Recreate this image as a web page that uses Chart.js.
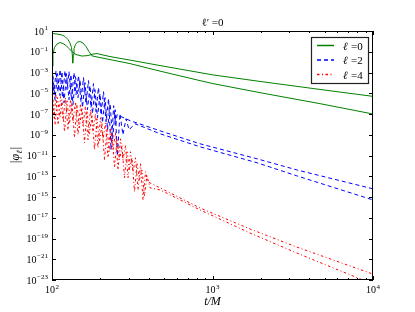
<!doctype html>
<html lang="en">
<head>
<meta charset="utf-8" />
<title>l' = 0 tails</title>
<script src="https://cdn.jsdelivr.net/npm/chart.js@4"></script>
<style>
  html, body { margin: 0; padding: 0; background: #fff; }
  #wrap { width: 415px; height: 312px; }
</style>
</head>
<body>
<div id="wrap"><canvas id="c" width="415" height="312"></canvas></div>
<script>
// l = 0, two runs (green)
const ell0aT = [100, 107.4, 115.4, 120.5, 125.8, 129.4, 132.3, 133.8, 134.6, 135.6, 137.1, 140.1, 144.1, 149.4, 156.0, 162.8, 170.0, 177.5, 199.1, 306, 471, 836, 1007, 1977, 4677, 10000];
const ell0aV = [5.73, 5.13, 4.11, 2.94, 1.51, 0.693, 0.255, 0.0536, 0.008, 0.0536, 0.204, 0.497, 0.865, 0.968, 0.693, 0.318, 0.104, 0.040, 0.0275, 0.0072, 0.00136, 1.65e-4, 8.5e-5, 1.14e-5, 9.9e-7, 1.0e-7];
const ell0bT = [100, 101.4, 103.6, 107.4, 112.2, 117.1, 122.3, 127.6, 133.2, 141.1, 153.8, 167.6, 180.1, 190.8, 199.1, 229.8, 306, 471, 1007, 1977, 4677, 10000];
const ell0bV = [0.004, 0.0536, 0.255, 0.555, 0.774, 0.619, 0.397, 0.204, 0.104, 0.0536, 0.0385, 0.043, 0.060, 0.067, 0.057, 0.0344, 0.0158, 0.00465, 5.86e-4, 1.38e-4, 2.33e-5, 5.0e-6];

// l = 2 (blue dashed)
const ell2aT = [100, 102.9, 105.9, 109.0, 112.2, 116.3, 120.5, 124.0, 127.6, 132.3, 137.1, 141.1, 146.3, 151.6, 157.1, 162.8, 168.8, 175.0, 181.3, 188.0, 194.8, 202.0, 209.4, 217.2, 225.1, 233.5, 242.2, 249.4, 254.0, 306.2, 471, 836, 1894, 3350, 10000];
const ell2aV = [9.8e-4, 7.3e-6, 1.5e-3, 1.4e-5, 1.9e-3, 3.8e-6, 1.5e-3, 2.2e-5, 1.2e-3, 2.4e-6, 9.8e-4, 7.3e-6, 5.0e-4, 1.5e-6, 3.2e-4, 9.9e-7, 1.65e-4, 4.1e-7, 8.5e-5, 1.7e-7, 3.5e-5, 8.6e-8, 1.4e-5, 1.8e-8, 3.0e-6, 3.6e-11, 6.3e-7, 9.2e-9, 8.6e-8, 2.3e-8, 2.4e-9, 1.35e-10, 4.8e-12, 4.1e-13, 6.1e-15];
const ell2bT = [101.4, 104.4, 108.2, 112.2, 115.4, 118.8, 123.1, 127.6, 131.3, 135.1, 140.1, 145.2, 149.4, 154.9, 160.4, 166.3, 172.5, 178.7, 185.2, 192.0, 199.1, 206.3, 214.0, 221.9, 230.2, 238.6, 247.6, 255.8, 265.0, 276.6, 289.4, 302.0, 328.8, 471, 836, 1894, 3350, 10000];
const ell2bV = [5.0e-4, 2.4e-6, 7.8e-4, 5.9e-6, 1.2e-3, 1.2e-6, 7.8e-4, 2.4e-6, 6.3e-4, 7.9e-7, 4.0e-4, 3.8e-6, 2.1e-4, 4.1e-7, 1.06e-4, 2.6e-7, 5.4e-5, 1.07e-7, 2.2e-5, 4.4e-8, 9.2e-6, 1.45e-8, 3.8e-6, 3.0e-9, 9.9e-7, 3.3e-10, 2.6e-7, 9.4e-12, 1.07e-7, 1.0e-9, 3.5e-8, 3.0e-9, 1.16e-8, 1.25e-9, 6.9e-11, 2.0e-12, 1.1e-13, 5.2e-16];

// l = 4 (red dash-dot)
const ell4aT = [100, 102.9, 105.9, 109.0, 113.0, 117.1, 121.4, 125.8, 130.4, 135.1, 140.1, 145.2, 150.5, 156.0, 161.6, 167.6, 173.7, 180.1, 186.6, 193.4, 200.5, 207.9, 215.4, 223.3, 231.5, 240.0, 248.7, 257.8, 267.2, 276.6, 287.1, 297.6, 308.4, 319.7, 331.4, 343.5, 356.0, 369.0, 382.5, 396.4, 836, 1712, 3350, 10000];
const ell4aV = [5.9e-6, 4.4e-8, 7.3e-6, 9.2e-9, 4.7e-6, 2.8e-8, 3.8e-6, 3.0e-9, 2.4e-6, 1.8e-8, 1.5e-6, 1.0e-9, 9.9e-7, 7.4e-9, 5.1e-7, 3.3e-10, 2.6e-7, 1.95e-9, 1.07e-7, 5.5e-11, 4.4e-8, 3.3e-10, 1.45e-8, 6.0e-12, 4.7e-9, 3.6e-11, 1.56e-9, 4.1e-13, 4.1e-10, 3.8e-12, 8.7e-11, 7.0e-14, 2.3e-11, 2.7e-13, 6.0e-12, 4.9e-15, 1.6e-12, 5.2e-16, 2.7e-13, 2.9e-14, 8.8e-17, 8.3e-19, 1.5e-20, 3.7e-23];
const ell4bT = [101.4, 104.4, 108.2, 112.2, 115.4, 119.6, 124.0, 128.5, 133.2, 138.1, 143.1, 148.3, 153.8, 159.4, 165.2, 171.2, 177.5, 184.0, 190.8, 197.7, 204.9, 212.4, 220.1, 228.2, 236.5, 245.2, 254.0, 263.4, 272.9, 283.0, 293.3, 304.0, 315.1, 326.6, 338.6, 350.9, 363.7, 377.0, 390.8, 407.9, 471, 836, 1712, 3350, 8666, 10000];
const ell4bV = [2.4e-6, 9.2e-9, 3.8e-6, 4.4e-8, 2.4e-6, 1.95e-9, 1.9e-6, 1.16e-8, 1.2e-6, 5.1e-10, 7.9e-7, 4.7e-9, 4.1e-7, 1.7e-10, 2.1e-7, 1.25e-9, 8.6e-8, 3.6e-11, 3.5e-8, 2.1e-10, 1.16e-8, 3.8e-12, 3.8e-9, 2.3e-11, 1.25e-9, 6.5e-13, 3.3e-10, 3.8e-12, 8.7e-11, 7.0e-14, 2.3e-11, 4.1e-13, 6.0e-12, 3.1e-15, 1.6e-12, 4.5e-14, 4.1e-13, 1.3e-15, 1.1e-13, 7.6e-15, 4.9e-15, 5.7e-17, 3.4e-19, 4.0e-21, 9.8e-24, 4.0e-24];

// axis ticks (exponents of 10) and texts
const xMajorExps = [2, 3, 4];
const xMinorVals = [200, 300, 400, 500, 600, 700, 800, 900, 2000, 3000, 4000, 5000, 6000, 7000, 8000, 9000];
const yMajorExps = [1, -1, -3, -5, -7, -9, -11, -13, -15, -17, -19, -21, -23];
const legendLabels = ['=0', '=2', '=4'];
const titleText = '\u2113\u2032 =0';

const SERIF = '"Liberation Serif", "DejaVu Serif", serif';

const pts = (ts, vs) => ts.map((t, i) => ({ x: t, y: vs[i] }));

function drawPow(ctx, exp, x, y, align) {
  const base = '10';
  const sup = String(exp).replace('-', '\u2212');
  ctx.font = '10px ' + SERIF;
  const wb = ctx.measureText(base).width;
  ctx.font = '7px ' + SERIF;
  const ws = ctx.measureText(sup).width;
  const x0 = align === 'right' ? x - wb - ws - 0.5 : x - (wb + ws + 0.5) / 2;
  ctx.textAlign = 'left';
  ctx.textBaseline = 'alphabetic';
  ctx.font = '10px ' + SERIF;
  ctx.fillText(base, x0, y);
  ctx.font = '7px ' + SERIF;
  ctx.fillText(sup, x0 + wb + 0.5, y - 4.5);
}

const axesPlugin = {
  id: 'mplAxes',
  afterDraw(chart) {
    const { ctx, chartArea: a } = chart;
    const xs = chart.scales.x, ys = chart.scales.y;
    ctx.save();
    ctx.strokeStyle = '#000';
    ctx.fillStyle = '#000';
    ctx.lineWidth = 1;
    ctx.strokeRect(a.left + 0.5, a.top + 0.5, a.right - a.left - 1, a.bottom - a.top - 1);

    // x ticks, inward on bottom and top
    ctx.beginPath();
    xMajorExps.forEach(e => {
      const px = Math.round(xs.getPixelForValue(Math.pow(10, e))) + 0.5;
      ctx.moveTo(px, a.bottom); ctx.lineTo(px, a.bottom - 4);
      ctx.moveTo(px, a.top); ctx.lineTo(px, a.top + 4);
    });
    xMinorVals.forEach(v => {
      const px = Math.round(xs.getPixelForValue(v)) + 0.5;
      ctx.moveTo(px, a.bottom); ctx.lineTo(px, a.bottom - 2);
      ctx.moveTo(px, a.top); ctx.lineTo(px, a.top + 2);
    });
    yMajorExps.forEach(e => {
      const py = Math.round(ys.getPixelForValue(Math.pow(10, e))) + 0.5;
      ctx.moveTo(a.left, py); ctx.lineTo(a.left + 4, py);
      ctx.moveTo(a.right, py); ctx.lineTo(a.right - 4, py);
    });
    ctx.stroke();

    // tick labels
    xMajorExps.forEach(e => drawPow(ctx, e, xs.getPixelForValue(Math.pow(10, e)), a.bottom + 13, 'center'));
    yMajorExps.forEach(e => drawPow(ctx, e, a.left - 4, ys.getPixelForValue(Math.pow(10, e)) + 3.5, 'right'));

    // title
    const cx = (a.left + a.right) / 2;
    ctx.textBaseline = 'alphabetic';
    ctx.textAlign = 'center';
    ctx.font = '11px ' + SERIF;
    ctx.fillText(titleText, cx, a.top - 5);

    // x label
    ctx.font = 'italic 12px ' + SERIF;
    ctx.fillText('t/M', cx, 305);

    // y label
    ctx.save();
    ctx.translate(19, (a.top + a.bottom) / 2);
    ctx.rotate(-Math.PI / 2);
    ctx.textAlign = 'left';
    ctx.font = 'italic 12px ' + SERIF;
    const w1 = ctx.measureText('|\u03c6').width;
    ctx.font = 'italic 8px ' + SERIF;
    const w2 = ctx.measureText('\u2113').width;
    ctx.font = 'italic 12px ' + SERIF;
    const w3 = ctx.measureText('|').width;
    let lx = -(w1 + w2 + w3) / 2;
    ctx.fillText('|\u03c6', lx, 0);
    ctx.font = 'italic 8px ' + SERIF;
    ctx.fillText('\u2113', lx + w1, 3);
    ctx.font = 'italic 12px ' + SERIF;
    ctx.fillText('|', lx + w1 + w2 + 0.5, 0);
    ctx.restore();

    // legend
    const bx = 311, by = 37, bw = 57, bh = 46;
    ctx.fillStyle = '#fff';
    ctx.fillRect(bx, by, bw, bh);
    ctx.strokeStyle = '#222';
    ctx.lineWidth = 1.2;
    ctx.strokeRect(bx + 0.5, by + 0.5, bw, bh);
    const order = [4, 2, 0]; // dataset index for each legend row (l=0,2,4)
    legendLabels.forEach((lab, i) => {
      const ds = chart.data.datasets[order[i]];
      const ly = 45.5 + i * 14.5;
      ctx.strokeStyle = ds.borderColor;
      ctx.lineWidth = 1.5;
      ctx.setLineDash(ds.borderDash || []);
      ctx.beginPath();
      ctx.moveTo(317, ly); ctx.lineTo(334, ly);
      ctx.stroke();
      ctx.setLineDash([]);
      ctx.fillStyle = '#000';
      ctx.textAlign = 'left';
      ctx.font = 'italic 11px ' + SERIF;
      ctx.fillText('\u2113', 343, ly + 4);
      ctx.font = '11px ' + SERIF;
      ctx.fillText(lab, 351, ly + 4);
    });
    ctx.restore();
  }
};

const red = '#ff0000', blue = '#0000ff', green = '#008000';
const dashBlue = [4, 3], dashRed = [2.5, 2.5, 1, 2.5];

new Chart(document.getElementById('c'), {
  type: 'line',
  data: {
    datasets: [
      { label: 'l=4 a', data: pts(ell4aT, ell4aV), borderColor: red, borderDash: dashRed },
      { label: 'l=4 b', data: pts(ell4bT, ell4bV), borderColor: red, borderDash: dashRed },
      { label: 'l=2 a', data: pts(ell2aT, ell2aV), borderColor: blue, borderDash: dashBlue },
      { label: 'l=2 b', data: pts(ell2bT, ell2bV), borderColor: blue, borderDash: dashBlue },
      { label: 'l=0 a', data: pts(ell0aT, ell0aV), borderColor: green },
      { label: 'l=0 b', data: pts(ell0bT, ell0bV), borderColor: green }
    ]
  },
  options: {
    responsive: false,
    animation: false,
    devicePixelRatio: 1,
    layout: { padding: { left: 52, top: 31, right: 42, bottom: 32 } },
    elements: {
      point: { radius: 0 },
      line: { borderWidth: 1, tension: 0, fill: false }
    },
    plugins: { legend: { display: false }, tooltip: { enabled: false } },
    scales: {
      x: { type: 'logarithmic', min: 100, max: 10000, display: false },
      y: { type: 'logarithmic', min: 1e-23, max: 10, display: false }
    }
  },
  plugins: [axesPlugin]
});
</script>
</body>
</html>
